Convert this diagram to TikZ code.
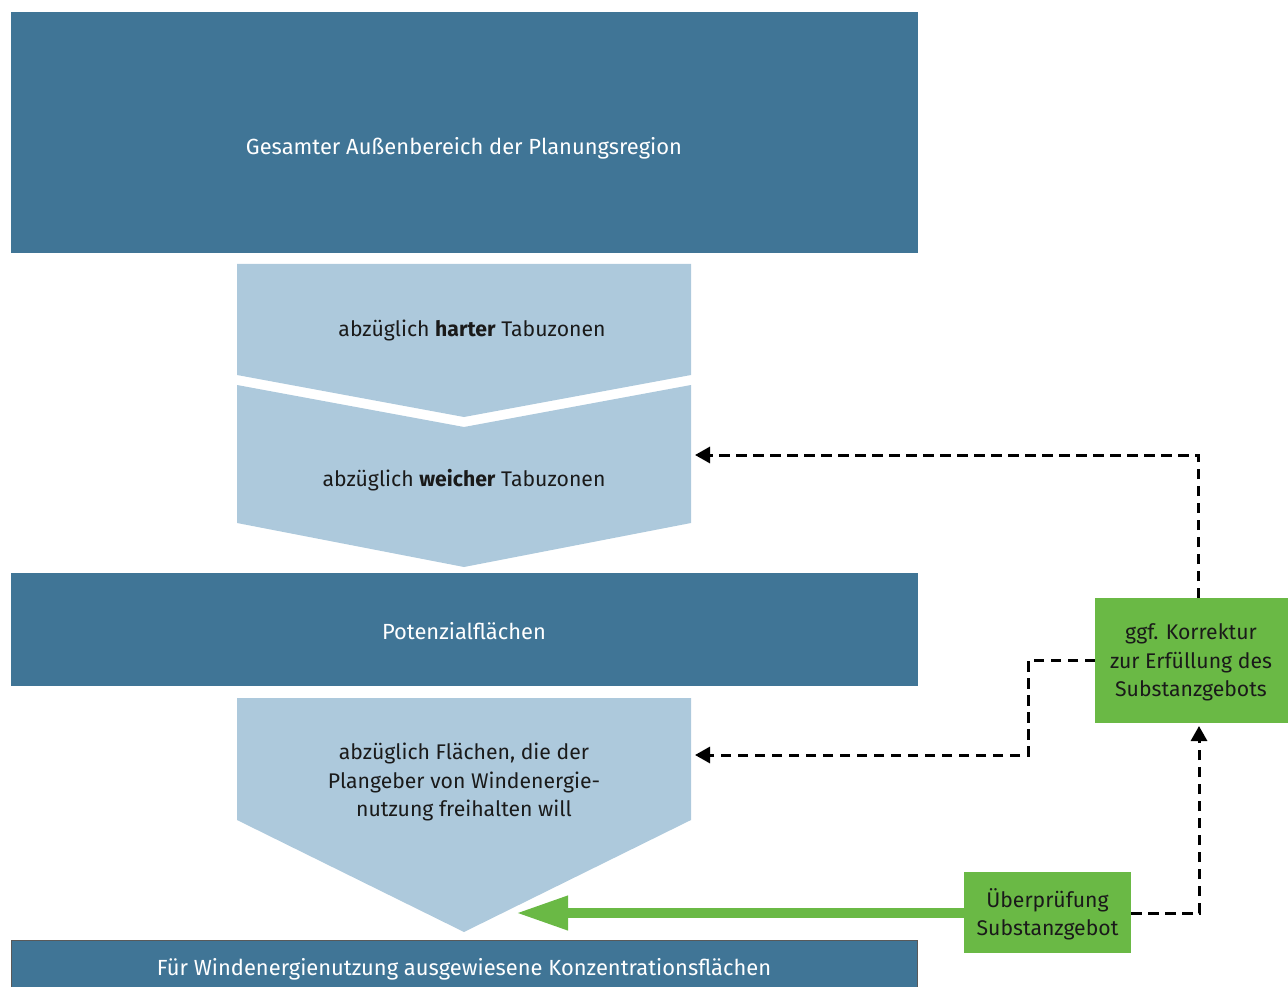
\documentclass[tikz,border=0pt]{standalone}
\usepackage{fontspec}
\setmainfont{Fira Sans}
\usetikzlibrary{arrows.meta}
\definecolor{dblue}{RGB}{64,117,150}
\definecolor{lblue}{RGB}{173,201,220}
\definecolor{lgreen}{RGB}{106,185,69}
\definecolor{txt}{RGB}{26,26,26}
\begin{document}
\begin{tikzpicture}[x=1pt,y=-1pt,
  lbl/.style={align=center, inner sep=0pt},
  wlbl/.style={lbl, text=white, font=\fontsize{21.9}{28.5}\selectfont},
  dlbl/.style={lbl, text=txt, font=\fontsize{21.2}{28.3}\selectfont},
  gbox/.style={fill=lgreen, dlbl},
  dashconn/.style={draw=black, line width=3pt, dash pattern=on 10.5pt off 6.5pt, -{Triangle[length=15pt,width=16pt]}},
  greenarrow/.style={draw=lgreen, line width=10pt, -{Triangle[length=52pt,width=32pt]}}
]
\useasboundingbox (0,0) rectangle (1288,987);
% top box
\fill[dblue] (11,12) rectangle (918,253);
\node[wlbl] (top) at (464,148) {Gesamter Außenbereich der Planungsregion};
% chevron 1
\fill[lblue] (237,264) -- (691,264) -- (691,375) -- (464,417) -- (237,375) -- cycle;
\node[dlbl] (hart) at (472,330) {abzüglich \textbf{harter} Tabuzonen};
% chevron 2
\fill[lblue] (237,385) -- (464,427) -- (691,385) -- (691,523) -- (464,567) -- (237,523) -- cycle;
\node[dlbl] (weich) at (464,480) {abzüglich \textbf{weicher} Tabuzonen};
% Potenzialflaechen
\fill[dblue] (11,573) rectangle (918,686);
\node[wlbl] (pot) at (464,631) {Potenzialflächen};
% chevron 3
\fill[lblue] (237,698) -- (691,698) -- (691,820) -- (464,932) -- (237,820) -- cycle;
\node[dlbl] (frei) at (464,782) {abzüglich Flächen, die der\\Plangeber von Windenergie-\\nutzung freihalten will};
% bottom box
\filldraw[fill=dblue, draw=black!65, line width=1.2pt] (11.5,940.5) rectangle (917.5,1000);
\node[wlbl] (konz) at (464,969) {Für Windenergienutzung ausgewiesene Konzentrationsflächen};
% green boxes
\fill[lgreen] (1095,598) rectangle (1288,723);
\node[dlbl, minimum width=193pt, minimum height=125pt] (korr) at (1191,662.5) {ggf. Korrektur\\zur Erfüllung des\\Substanzgebots};
\fill[lgreen] (964,872) rectangle (1131,953);
\node[dlbl, minimum width=167pt, minimum height=81pt] (pruef) at (1047.5,914) {Überprüfung\\Substanzgebot};
% arrow targets
\coordinate (weichin) at (695,455);
\coordinate (freiin) at (695,755);
\coordinate (gtip) at (516,913);
\coordinate (korrtop) at (1198.5,598);
\coordinate (korrleft) at (1095,660);
\coordinate (korrbot) at (1199,726);
\coordinate (pruefright) at (1131,913);
\coordinate (pruefleft) at (964,913);
% connectors
\draw[dashconn] (korrtop) |- (weichin);
\draw[dashconn] (korrleft) -- ++(-67,0) |- (freiin);
\draw[dashconn] (pruefright) -| (korrbot);
\draw[greenarrow] (pruefleft) -- (gtip);
\end{tikzpicture}
\end{document}
